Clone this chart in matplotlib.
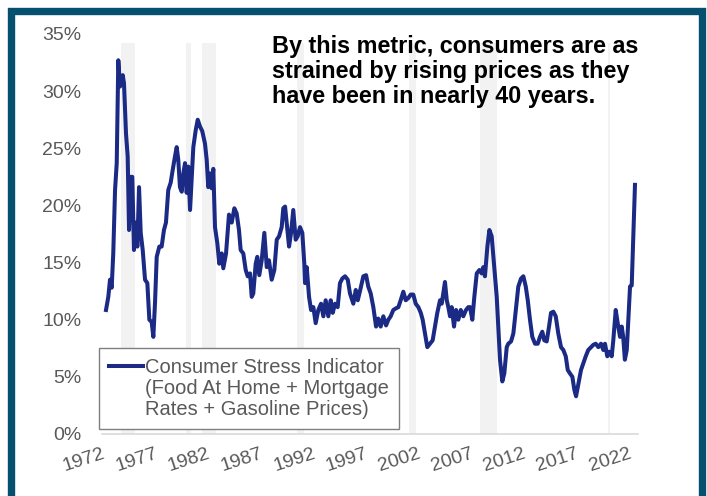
import matplotlib.pyplot as plt
from matplotlib.lines import Line2D
from matplotlib.patches import Rectangle
from matplotlib.ticker import FuncFormatter

plt.rcParams['font.family'] = ['Liberation Sans', 'DejaVu Sans']

# consumer stress indicator (year, percent)
years = [1972.38, 1972.6, 1972.76, 1972.92, 1973.07, 1973.24, 1973.4, 1973.55, 1973.71, 1973.97,
         1974.09, 1974.28, 1974.44, 1974.57, 1974.73, 1974.88, 1975.04, 1975.2, 1975.36, 1975.52,
         1975.68, 1975.87, 1976.09, 1976.31, 1976.5, 1976.72, 1976.88, 1977.04, 1977.2, 1977.45,
         1977.67, 1977.89, 1978.08, 1978.3, 1978.53, 1978.72, 1978.94, 1979.1, 1979.25, 1979.41,
         1979.58, 1979.73, 1979.89, 1980.05, 1980.2, 1980.37, 1980.53, 1980.68, 1980.91, 1981.1,
         1981.32, 1981.53, 1981.79, 1981.95, 1982.1, 1982.27, 1982.43, 1982.58, 1982.74, 1982.96,
         1983.15, 1983.38, 1983.53, 1983.79,
         1984.07, 1984.33, 1984.58, 1984.8, 1985.02, 1985.18, 1985.43, 1985.66, 1985.85, 1986.07,
         1986.23, 1986.38, 1986.61, 1986.76, 1986.95, 1987.18, 1987.43, 1987.66, 1987.87, 1988.13,
         1988.38, 1988.61, 1988.83, 1989.08, 1989.23, 1989.4, 1989.56, 1989.78, 1989.97, 1990.18,
         1990.41, 1990.6, 1990.82, 1991.04, 1991.23, 1991.3, 1991.46, 1991.68, 1991.87, 1992.09,
         1992.31, 1992.56, 1992.82, 1993.04, 1993.26, 1993.51, 1993.74, 1993.93, 1994.15, 1994.4,
         1994.62, 1994.84, 1995.1, 1995.36, 1995.57, 1995.89, 1996.12, 1996.31, 1996.52,
         1996.84, 1997.1, 1997.31, 1997.54, 1997.79, 1998.05, 1998.26, 1998.49, 1998.74, 1999.0,
         1999.22, 1999.44, 1999.69, 1999.95, 2000.17, 2000.39, 2000.64, 2000.87, 2001.12, 2001.34,
         2001.59, 2001.82, 2002.07, 2002.3, 2002.48, 2002.7, 2002.92, 2003.18, 2003.43, 2003.65,
         2003.87, 2004.13, 2004.29, 2004.44, 2004.6, 2004.77, 2004.92, 2005.08, 2005.24, 2005.46,
         2005.65, 2005.87, 2006.1, 2006.34, 2006.6, 2006.82, 2006.98, 2007.2, 2007.39, 2007.62,
         2007.87, 2008.09, 2008.24, 2008.4, 2008.63, 2008.82, 2009.04, 2009.26, 2009.52, 2009.7,
         2009.83, 2010.05, 2010.24, 2010.47, 2010.62, 2010.88, 2011.1, 2011.33, 2011.57, 2011.83,
         2012.05, 2012.28, 2012.47, 2012.68, 2012.9, 2013.16, 2013.42, 2013.63, 2013.85, 2014.04,
         2014.27, 2014.49, 2014.68, 2014.9, 2015.13, 2015.37, 2015.63, 2015.85, 2016.08, 2016.27,
         2016.48, 2016.71, 2016.9, 2017.06, 2017.28, 2017.53, 2017.75, 2017.98, 2018.22, 2018.48,
         2018.7, 2018.93, 2019.18, 2019.43, 2019.65, 2019.81, 2020.03, 2020.22, 2020.45, 2020.6,
         2020.83, 2021.02, 2021.24, 2021.4, 2021.54, 2021.7, 2021.88, 2022.03, 2022.19, 2022.35,
         2022.5, 2022.66]
stress = [10.85, 12.0, 13.5, 12.8, 15.8, 21.35, 23.7, 32.7, 30.4, 31.4,
          30.7, 26.3, 24.3, 17.85, 22.5, 22.5, 16.1, 18.5, 16.4, 21.6,
          17.6, 16.1, 13.5, 13.2, 10.0, 9.8, 8.5, 11.5, 15.5, 16.4,
          16.4, 17.85, 18.5, 21.35, 22.0, 23.1, 24.3, 25.1, 24.0, 21.6,
          21.2, 22.8, 23.7, 21.1, 23.4, 19.6, 22.5, 25.1, 26.6, 27.5,
          26.9, 26.5, 25.4, 24.0, 21.6, 22.8, 21.5, 23.2, 18.1, 16.7,
          14.9, 15.8, 14.5, 15.8,
          19.2, 18.5, 19.75, 19.3, 17.85, 16.1, 15.8, 14.35, 13.8, 14.05,
          12.0, 12.3, 14.9, 15.5, 13.9, 15.2, 17.6, 14.6, 15.2, 13.5,
          14.35, 17.0, 17.3, 18.1, 19.75, 19.9, 18.4, 16.4, 17.6, 19.6,
          17.0, 17.3, 18.1, 17.6, 14.9, 13.2, 14.6, 12.0, 10.85, 11.1,
          9.7, 10.85, 11.4, 10.3, 11.7, 10.3, 11.7, 10.6, 11.4, 11.1,
          13.2, 13.6, 13.8, 13.5, 12.3, 11.4, 12.6, 11.7, 12.5,
          13.8, 13.9, 12.9, 12.3, 11.1, 9.4, 10.1, 9.4, 10.3, 9.5,
          10.0, 10.3, 10.85, 11.0, 11.1, 11.7, 12.45, 11.7, 11.9, 12.2,
          12.2, 11.4, 11.1, 10.6, 10.0, 8.8, 7.6, 7.9, 8.2, 9.4,
          10.6, 11.7, 11.4, 12.3, 13.3, 11.7, 11.1, 10.3, 11.1, 9.4,
          10.85, 10.0, 10.85, 10.3, 10.85, 11.1, 11.1, 10.0, 12.0, 14.05,
          14.35, 14.05, 14.6, 13.8, 16.4, 17.85, 17.3, 14.9, 12.0, 8.8,
          6.5, 4.6, 5.3, 7.6, 7.9, 8.1, 8.8, 10.85, 12.9, 13.6,
          13.8, 12.9, 11.7, 10.0, 8.5, 7.9, 7.9, 8.5, 8.95, 8.2,
          8.1, 9.4, 10.6, 10.7, 10.3, 8.8, 7.6, 7.35, 6.8, 5.6,
          5.3, 5.0, 3.85, 3.3, 4.4, 5.6, 6.2, 6.8, 7.35, 7.6,
          7.8, 7.9, 7.6, 7.9, 7.35, 7.9, 6.8, 7.2, 6.8, 8.2,
          10.85, 9.7, 8.5, 9.4, 8.5, 6.5, 7.35, 10.0, 12.9, 13.0,
          17.3, 21.8]

# NBER recessions (start, end)
rec_start = [1973.83, 1980.0, 1981.5, 1990.5, 2001.17, 2007.92, 2020.08]
rec_end = [1975.17, 1980.5, 1982.83, 1991.17, 2001.83, 2009.5, 2020.33]

tick_years = list(range(1972, 2023, 5))
y_ticks = [0, 5, 10, 15, 20, 25, 30, 35]
legend_lines = ['Consumer Stress Indicator', '(Food At Home + Mortgage', 'Rates + Gasoline Prices)']

navy = '#1B2A84'
grey_txt = '#595959'

fig = plt.figure(figsize=(7.07, 4.96), dpi=100)
ax = fig.add_axes([102 / 707, 62 / 496, 535.5 / 707, 400 / 496])

for s, e in zip(rec_start, rec_end):
    ax.axvspan(s, e, ymin=0, ymax=0.978, color='#F2F2F2', lw=0, zorder=0)

line, = ax.plot(years, stress, color=navy, lw=2.9, solid_joinstyle='round', zorder=3)

ax.set_xlim(1972, 2022.9)
ax.set_ylim(0, 35)
ax.set_yticks(y_ticks)
ax.yaxis.set_major_formatter(FuncFormatter(lambda v, p: f'{v:.0f}%'))
ax.set_xticks(tick_years)
ax.set_xticklabels([str(y) for y in tick_years], rotation=18, ha='right',
                   rotation_mode='anchor')
ax.tick_params(axis='y', length=0, pad=15, labelsize=14, labelcolor=grey_txt)
ax.tick_params(axis='x', length=0, pad=8, labelsize=14, labelcolor=grey_txt)

for side in ['top', 'right', 'left']:
    ax.spines[side].set_visible(False)
ax.spines['bottom'].set_color('#D9D9D9')
ax.spines['bottom'].set_linewidth(1.2)

blank = Line2D([], [], color='none')
leg = ax.legend([line, blank, blank], legend_lines, loc='lower left',
                bbox_to_anchor=(-0.006, 0.012), borderaxespad=0,
                fancybox=False, framealpha=1, edgecolor='#7F7F7F', fontsize=14.5,
                handlelength=1.7, handletextpad=0.1, borderpad=0.5, labelspacing=0.1)
leg.get_frame().set_linewidth(1.0)
for t in leg.get_texts():
    t.set_color(grey_txt)

fig.text(272 / 707, 1 - 35 / 496,
         'By this metric, consumers are as\nstrained by rising prices as they\nhave been in nearly 40 years.',
         fontsize=16.8, fontweight='bold', color='black', va='top', ha='left', linespacing=1.1)

# dark frame around the picture
fig.patches.append(Rectangle((11 / 707, -0.05), 691 / 707, 1 - 11 / 496 + 0.05,
                             transform=fig.transFigure, fill=False,
                             edgecolor='#04506E', lw=5.3))

fig.savefig('out.png', dpi=100)
